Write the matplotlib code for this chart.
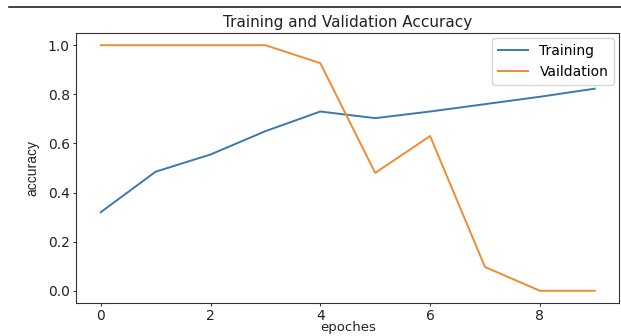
import numpy as np
import matplotlib
matplotlib.use('Agg')
import matplotlib.pyplot as plt
from matplotlib.lines import Line2D

# accuracy per epoch
epochs = [0, 1, 2, 3, 4, 5, 6, 7, 8, 9]
train_acc = [0.32, 0.485, 0.555, 0.65, 0.73, 0.703, 0.73, 0.76, 0.79, 0.823]
val_acc = [1.0, 1.0, 1.0, 1.0, 0.927, 0.48, 0.63, 0.097, 0.0, 0.0]

plt.rc('axes', edgecolor='#333333')
plt.rc('xtick', color='#333333', labelcolor='#222222')
plt.rc('ytick', color='#333333', labelcolor='#222222')

fig = plt.figure(figsize=(6.21, 3.36), dpi=100)
ax = fig.add_axes([0.1225, 0.098, 0.875, 0.804])

ax.plot(epochs, train_acc, label='Training', linewidth=1.4, color='#3b78b0')
ax.plot(epochs, val_acc, label='Vaildation', linewidth=1.4, color='#f08c30')
ax.set_title('Training and Validation Accuracy', fontsize=11, pad=4, color='#222222')
ax.set_xlabel('epoches', fontsize=9.5, color='#222222')
ax.xaxis.set_label_coords(0.5, -0.068)
ax.set_ylabel('accuracy', family='Liberation Sans', labelpad=6, color='#222222')
ax.tick_params(axis='both', length=2.5, pad=2)
ax.legend(loc='upper right', borderaxespad=0.4, handlelength=2.2)

# rule across the top of the page
fig.add_artist(Line2D([0.015, 1.0], [0.979, 0.979], color='#222222', linewidth=1.2))

fig.savefig('out.png', dpi=100)
